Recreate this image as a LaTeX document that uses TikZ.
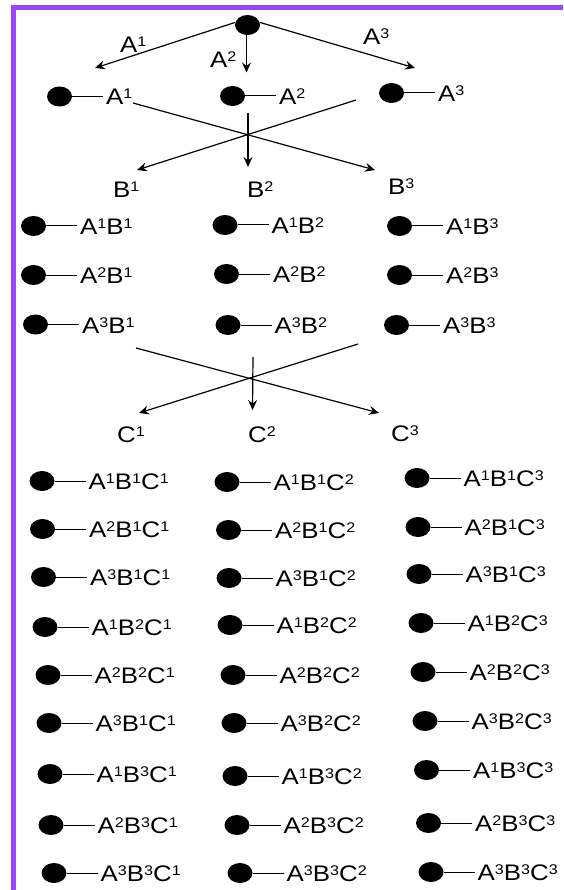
\documentclass[tikz,border=0pt]{standalone}
\usepackage{fontspec}
\setmainfont{Liberation Sans}[FakeStretch=1.15]
\usetikzlibrary{arrows.meta,shapes.geometric}
\definecolor{frameviolet}{RGB}{155,70,250}
\newcommand\su[1]{\raisebox{6pt}{\fontsize{14}{14}\selectfont #1}}
% name, cx, cy, text
\newcommand\leaf[4]{%
  \node[dot] (#1) at (#2,#3) {};
  \node[lbl, anchor=base west] (#1t) at ([shift={(43.5,8.5)}]#1.center) {#4};
  \draw[stem] (#1.east) -- (#1t.west |- #1);
}
\begin{document}
\begin{tikzpicture}[x=1pt,y=-1pt,
  dot/.style={ellipse, fill=black, draw=none, minimum width=25pt, minimum height=20pt, inner sep=0pt},
  lbl/.style={inner xsep=3pt, inner ysep=0pt, font=\fontsize{22.5}{24}\selectfont},
  tag/.style={inner sep=0pt, anchor=base west, font=\fontsize{22.5}{24}\selectfont},
  stem/.style={line width=1pt},
  arr/.style={line width=1.2pt, -{Stealth[length=10pt,width=9pt,inset=3.5pt]}}]
\useasboundingbox (0,0) rectangle (563,890);
\fill[white] (0,0) rectangle (563,890);
% frame
\fill[frameviolet] (11,5) rectangle (563,10.5);
\fill[frameviolet] (11,5) rectangle (16,890);

% top level
\node[dot] (root) at (247.5,25) {};
\coordinate (ta1) at (95,68);
\coordinate (ta2) at (246.5,72.5);
\coordinate (ta3) at (415,68);
\draw[arr] (root.168) -- (ta1);
\draw[arr] (root.south -| ta2) -- (ta2);
\draw[arr] (root.12) -- (ta3);
\node[tag] (la1) at (120,53) {A\su1};
\node[tag] (la2) at (210,68) {A\su2};
\node[tag] (la3) at (363,45) {A\su3};

% row A
\leaf{a1}{59.5}{96.5}{A\su1}
\leaf{a2}{232.5}{96}{A\su2}
\leaf{a3}{391.5}{93}{A\su3}

% cross A -> B
\coordinate (xa1) at (133,103);
\coordinate (xb3) at (375,170);
\coordinate (xa3) at (356,100);
\coordinate (xb1) at (137,170);
\coordinate (xa2) at (248,113);
\coordinate (xb2) at (248,167);
\draw[arr] (xa1) -- (xb3);
\draw[arr] (xa3) -- (xb1);
\draw[arr] (xa2) -- (xb2);
\node[tag] (lb1) at (113,198) {B\su1};
\node[tag] (lb2) at (247,198) {B\su2};
\node[tag] (lb3) at (388,195) {B\su3};

% rows AB
\leaf{ab11}{33.5}{226}{A\su1B\su1}
\leaf{ab21}{33.5}{275}{A\su2B\su1}
\leaf{ab31}{35.5}{324.5}{A\su3B\su1}
\leaf{ab12}{225}{225}{A\su1B\su2}
\leaf{ab22}{226.5}{274}{A\su2B\su2}
\leaf{ab32}{228}{325}{A\su3B\su2}
\leaf{ab13}{399.5}{226}{A\su1B\su3}
\leaf{ab23}{399.5}{275}{A\su2B\su3}
\leaf{ab33}{396.5}{325}{A\su3B\su3}

% cross B -> C
\coordinate (ya1) at (136,348);
\coordinate (yc3) at (379,413);
\coordinate (ya3) at (358,344);
\coordinate (yc1) at (139,413);
\coordinate (ya2) at (253,357);
\coordinate (yc2) at (252.5,410);
\draw[arr] (ya1) -- (yc3);
\draw[arr] (ya3) -- (yc1);
\draw[arr] (ya2) -- (yc2);
\node[tag] (lc1) at (117,442) {C\su1};
\node[tag] (lc2) at (248,442) {C\su2};
\node[tag] (lc3) at (391,441) {C\su3};

% rows ABC
\leaf{r1a}{42}{481}{A\su1B\su1C\su1}
\leaf{r1b}{227}{482}{A\su1B\su1C\su2}
\leaf{r1c}{417}{478}{A\su1B\su1C\su3}
\leaf{r2a}{42.5}{529}{A\su2B\su1C\su1}
\leaf{r2b}{228.5}{530}{A\su2B\su1C\su2}
\leaf{r2c}{418}{527}{A\su2B\su1C\su3}
\leaf{r3a}{43.5}{577}{A\su3B\su1C\su1}
\leaf{r3b}{229}{578}{A\su3B\su1C\su2}
\leaf{r3c}{419}{574}{A\su3B\su1C\su3}
\leaf{r4a}{45}{627}{A\su1B\su2C\su1}
\leaf{r4b}{230}{625}{A\su1B\su2C\su2}
\leaf{r4c}{421}{623}{A\su1B\su2C\su3}
\leaf{r5a}{48}{675}{A\su2B\su2C\su1}
\leaf{r5b}{233}{675}{A\su2B\su2C\su2}
\leaf{r5c}{423}{672}{A\su2B\su2C\su3}
\leaf{r6a}{49}{723}{A\su3B\su1C\su1}
\leaf{r6b}{234}{723}{A\su3B\su2C\su2}
\leaf{r6c}{425}{721}{A\su3B\su2C\su3}
\leaf{r7a}{50}{774}{A\su1B\su3C\su1}
\leaf{r7b}{235}{776}{A\su1B\su3C\su2}
\leaf{r7c}{426.5}{770}{A\su1B\su3C\su3}
\leaf{r8a}{51}{825}{A\su2B\su3C\su1}
\leaf{r8b}{237}{825}{A\su2B\su3C\su2}
\leaf{r8c}{428.5}{823}{A\su2B\su3C\su3}
\leaf{r9a}{54}{873}{A\su3B\su3C\su1}
\leaf{r9b}{240}{873}{A\su3B\su3C\su2}
\leaf{r9c}{431}{872}{A\su3B\su3C\su3}
\end{tikzpicture}
\end{document}
